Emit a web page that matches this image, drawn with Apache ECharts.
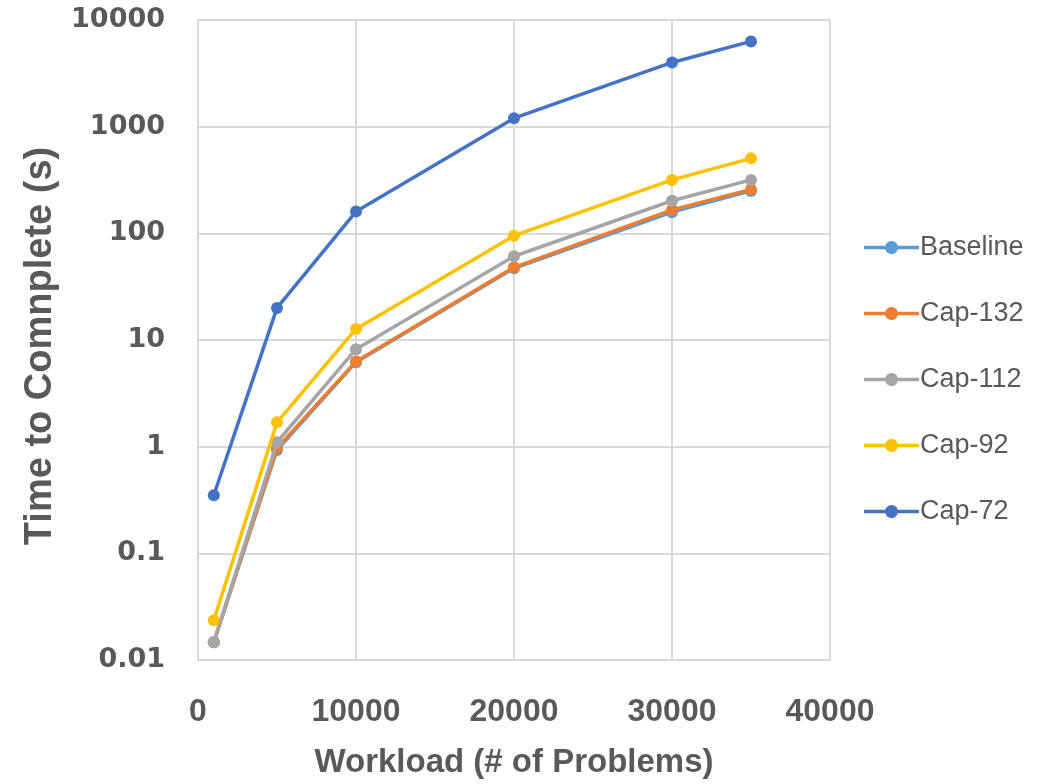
<!DOCTYPE html>
<html>
<head>
<meta charset="utf-8">
<script src="https://cdn.jsdelivr.net/npm/echarts@6/dist/echarts.min.js"></script>
<style>
  html, body { margin: 0; padding: 0; background: #ffffff; }
  #chart { width: 1042px; height: 784px; }
</style>
</head>
<body>
<div id="chart"></div>
<script>
// Workload sizes (number of problems)
const workloads = [1000, 5000, 10000, 20000, 30000, 35000];

// Time to complete (seconds) per power cap setting
const baseline = [0.0147, 0.93, 6.2, 47, 158, 250];
const cap132   = [0.0147, 0.97, 6.3, 48, 166, 258];
const cap112   = [0.0147, 1.1, 8.2, 61, 202, 317];
const cap92    = [0.0236, 1.69, 12.7, 95, 317, 505];
const cap72    = [0.35, 20, 160, 1200, 4000, 6300];

const seriesNames = ['Baseline', 'Cap-132', 'Cap-112', 'Cap-92', 'Cap-72'];
const seriesValues = [baseline, cap132, cap112, cap92, cap72];
const seriesColors = ['#5B9BD5', '#ED7D31', '#A5A5A5', '#FFC000', '#4472C4'];

const yTickLabels = ['0.01', '0.1', '1', '10', '100', '1000', '10000'];

// Legend marker: a thick line segment with a dot in the middle
const legendIcon = 'path://M0 4.75H21.24A6.5 6.5 0 0 1 33.76 4.75H55V8.25H33.76A6.5 6.5 0 0 1 21.24 8.25H0Z';

const chart = echarts.init(document.getElementById('chart'), null, { renderer: 'canvas' });

const gridColor = '#d9d9d9';
const textColor = '#595959';

chart.setOption({
  animation: false,
  backgroundColor: '#ffffff',
  grid: { left: 198, right: 212, top: 20, bottom: 120, containLabel: false },
  legend: {
    orient: 'vertical',
    left: 859,
    top: 229,
    itemGap: 39,
    itemWidth: 55,
    itemHeight: 13,
    icon: legendIcon,
    data: seriesNames,
    textStyle: { fontFamily: 'Liberation Sans', fontSize: 27, color: textColor, padding: [0, 0, 0, -4] }
  },
  xAxis: {
    type: 'value',
    min: 0,
    max: 40000,
    interval: 10000,
    name: 'Workload (# of Problems)',
    nameLocation: 'middle',
    nameGap: 86,
    nameTextStyle: { fontFamily: 'Liberation Sans', fontWeight: 'bold', fontSize: 33, color: textColor },
    axisLine: { show: true, lineStyle: { color: gridColor, width: 2 } },
    axisTick: { show: false },
    axisLabel: {
      fontFamily: 'Liberation Sans',
      fontWeight: 'bold',
      fontSize: 32,
      color: textColor,
      margin: 36,
      formatter: v => String(v)
    },
    splitLine: { show: true, lineStyle: { color: gridColor, width: 2 } }
  },
  yAxis: {
    type: 'log',
    logBase: 10,
    min: 0.01,
    max: 10000,
    name: 'Time to Comnplete (s)',
    nameLocation: 'middle',
    nameGap: 138,
    nameRotate: 90,
    nameTextStyle: { fontFamily: 'Liberation Sans', fontWeight: 'bold', fontSize: 38, color: textColor, padding: [0, 12, 0, 0] },
    axisLine: { show: true, lineStyle: { color: gridColor, width: 2 } },
    axisTick: { show: false },
    axisLabel: {
      fontFamily: 'DejaVu Sans',
      fontWeight: 'bold',
      fontSize: 27,
      color: textColor,
      margin: 33,
      formatter: v => yTickLabels[Math.round(Math.log10(v)) + 2]
    },
    splitLine: { show: true, lineStyle: { color: gridColor, width: 2 } }
  },
  series: seriesNames.map((name, i) => ({
    name: name,
    type: 'line',
    data: workloads.map((x, j) => [x, seriesValues[i][j]]),
    symbol: 'circle',
    symbolSize: 12,
    showSymbol: true,
    lineStyle: { width: 3.5, color: seriesColors[i] },
    itemStyle: { color: seriesColors[i] },
    z: 2 + i
  }))
});
</script>
</body>
</html>
